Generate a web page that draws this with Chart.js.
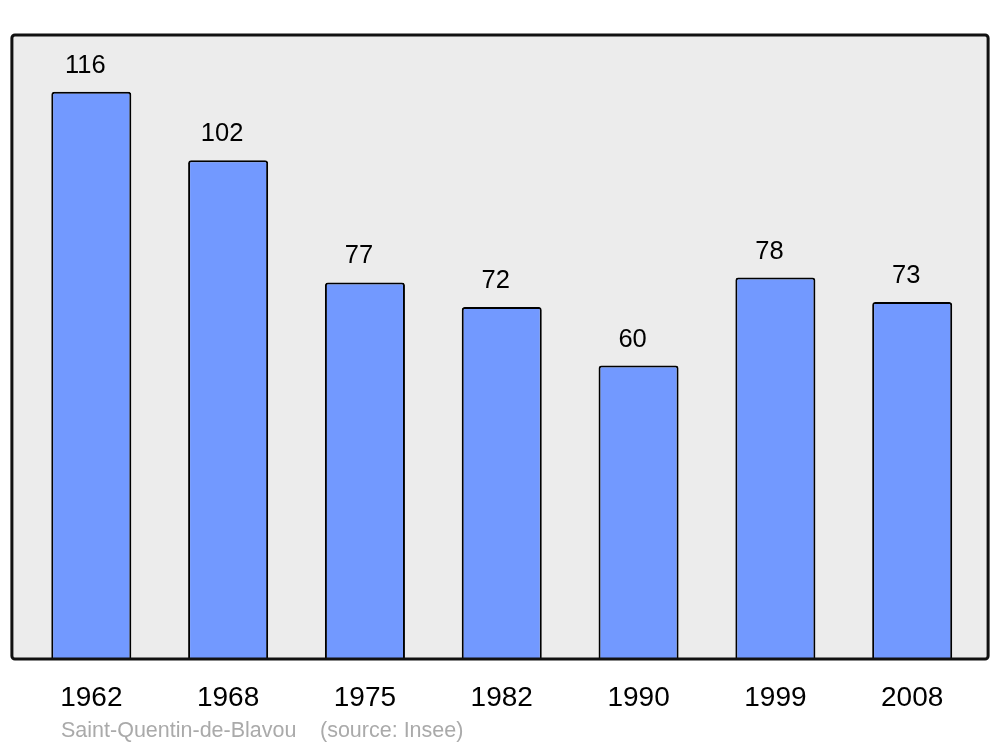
<!DOCTYPE html>
<html>
<head>
<meta charset="utf-8">
<script src="https://cdn.jsdelivr.net/npm/chart.js@4/dist/chart.umd.min.js"></script>
<style>
html,body{margin:0;padding:0;background:#fff;}
#wrap{width:1000px;height:747px;position:relative;}
</style>
</head>
<body>
<div id="wrap"><canvas id="c" width="1000" height="747"></canvas></div>
<script>
const years = ['1962','1968','1975','1982','1990','1999','2008'];
const population = [116,102,77,72,60,78,73];
const captionPlace = 'Saint-Quentin-de-Blavou';
const captionSource = '(source: Insee)';

const FONT = '"Liberation Sans", Arial, sans-serif';

const framePlugin = {
  id: 'frame',
  beforeDraw(chart) {
    const {ctx, chartArea: a} = chart;
    ctx.save();
    const x = a.left - 11, y = a.top + 1, w = (a.right + 7.5) - x, h = a.bottom - y;
    ctx.beginPath();
    ctx.roundRect(x, y, w, h, 3);
    ctx.fillStyle = '#ececec';
    ctx.fill();
    ctx.restore();
  },
  afterDatasetsDraw(chart) {
    const {ctx, chartArea: a} = chart;
    ctx.save();
    const x = a.left - 11, y = a.top + 1, w = (a.right + 7.5) - x, h = a.bottom - y;
    ctx.beginPath();
    ctx.roundRect(x, y, w, h, 3);
    ctx.lineWidth = 3;
    ctx.strokeStyle = '#111';
    ctx.stroke();
    // value labels
    const meta = chart.getDatasetMeta(0);
    ctx.fillStyle = '#000';
    ctx.font = '25.5px ' + FONT;
    ctx.textAlign = 'center';
    ctx.textBaseline = 'middle';
    meta.data.forEach((bar, i) => {
      ctx.fillText(String(population[i]), bar.x - 6, bar.y - 26);
    });
    // caption
    ctx.fillStyle = '#aaaaaa';
    ctx.font = '21.5px ' + FONT;
    ctx.textAlign = 'left';
    ctx.textBaseline = 'alphabetic';
    ctx.fillText(captionPlace, 61, 737);
    ctx.fillText(captionSource, 320, 737);
    ctx.restore();
  }
};

new Chart(document.getElementById('c'), {
  type: 'bar',
  data: {
    labels: years,
    datasets: [{
      data: population,
      backgroundColor: '#7299ff',
      borderColor: '#000',
      borderWidth: 2,
      borderRadius: {topLeft: 3, topRight: 3, bottomLeft: 0, bottomRight: 0},
      borderSkipped: 'bottom',
      barPercentage: 0.585,
      categoryPercentage: 1.0
    }]
  },
  options: {
    responsive: false,
    animation: false,
    devicePixelRatio: 1,
    layout: {padding: {left: 22.9, right: 19.4, top: 34, bottom: 0}},
    plugins: {legend: {display: false}, tooltip: {enabled: false}},
    scales: {
      x: {
        grid: {display: false},
        border: {display: false},
        ticks: {color: '#000', font: {family: FONT, size: 28}, padding: 14, maxRotation: 0},
        afterFit(scale) { scale.height = 88; }
      },
      y: {
        display: false,
        min: 0,
        max: 127.8
      }
    }
  },
  plugins: [framePlugin]
});
</script>
</body>
</html>
